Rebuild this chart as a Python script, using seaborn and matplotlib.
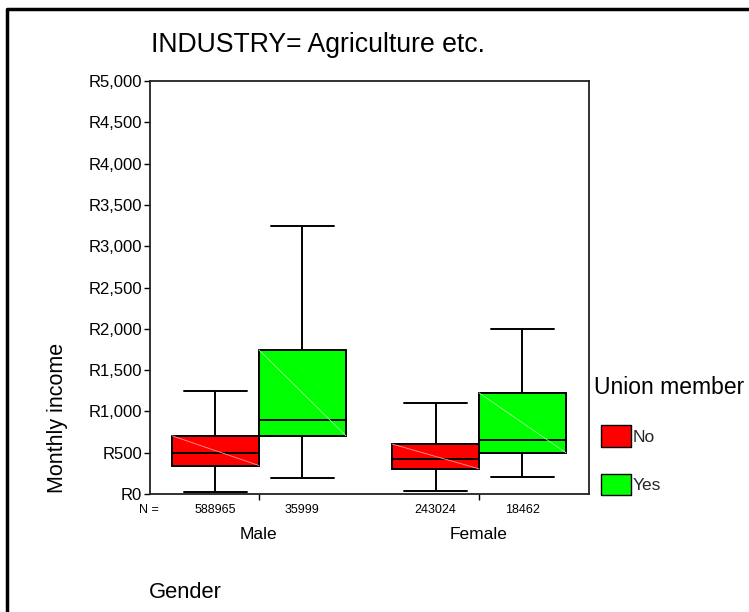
import numpy as np
import pandas as pd
import matplotlib
matplotlib.use("Agg")
import matplotlib.pyplot as plt
from matplotlib.lines import Line2D
from matplotlib.patches import Patch
from matplotlib.ticker import FuncFormatter
import seaborn as sns

# Five-number summaries of monthly income (min, Q1, median, Q3, max)
genders = ["Male", "Female"]
union_levels = ["No", "Yes"]
male_no = [20, 345, 500, 705, 1250]
male_yes = [190, 705, 900, 1745, 3250]
female_no = [40, 305, 420, 605, 1100]
female_yes = [205, 500, 650, 1225, 2000]
counts = [588965, 35999, 243024, 18462]
y_ticks = list(range(0, 5001, 500))

rows = []
for g, u, vals in [("Male", "No", male_no), ("Male", "Yes", male_yes),
                   ("Female", "No", female_no), ("Female", "Yes", female_yes)]:
    for v in vals:
        rows.append({"Gender": g, "Union member": u, "income": v})
df = pd.DataFrame(rows)

sns.set_theme(style="white")
plt.rcParams["font.family"] = ["Liberation Sans", "DejaVu Sans"]

W, H = 749, 612
fig = plt.figure(figsize=(W / 100, H / 100), dpi=100)
fig.patch.set_facecolor("white")

def fx(px):
    return px / W

def fy(py):
    return 1 - py / H

ax = fig.add_axes([fx(150), fy(494), fx(589) - fx(150), fy(81) - fy(494)])

palette = {"No": "#ff0000", "Yes": "#00ff00"}
box_width = 0.79
# five values per group with whiskers at min/max reproduce the summary exactly
sns.boxplot(data=df, x="Gender", y="income", hue="Union member",
            order=genders, hue_order=union_levels, palette=palette,
            whis=(0, 100), width=box_width, gap=0, dodge=True,
            saturation=1, showfliers=False, linecolor="black",
            linewidth=1.4, capwidths=0.286, legend=False, ax=ax)

# faint diagonal stroke across each box face
shade = {"#ff0000": "#ff9a9a", "#00ff00": "#9dff9d"}
for p in list(ax.patches):
    ext = p.get_path().get_extents()
    fc = matplotlib.colors.to_hex(p.get_facecolor())
    ax.plot([ext.x0, ext.x1], [ext.y1, ext.y0], color=shade.get(fc, "white"),
            lw=0.6, zorder=p.get_zorder() + 0.1)

ax.set_ylim(0, 5000)
ax.set_xlim(-0.495, 1.5)
ax.set_yticks(y_ticks)
ax.yaxis.set_major_formatter(FuncFormatter(lambda v, _: f"R{int(v):,}"))
ax.set_xlabel("")
ax.set_ylabel("")
ax.set_xticks(range(len(genders)))
ax.set_xticklabels(genders)
for s in ax.spines.values():
    s.set_visible(True)
    s.set_color("#222222")
    s.set_linewidth(1.3)
ax.tick_params(axis="y", which="major", direction="out", length=4.5,
               width=1.0, color="black", labelsize=12, pad=1, left=True)
ax.tick_params(axis="x", which="major", direction="out", length=4,
               width=1.0, color="black", labelsize=12.5, pad=20, bottom=True)
for t in ax.get_yticklabels() + ax.get_xticklabels():
    t.set_color("black")

# case counts beneath each box
trans = matplotlib.transforms.blended_transform_factory(ax.transData, fig.transFigure)
i = 0
for gi, g in enumerate(genders):
    for ui, u in enumerate(union_levels):
        xpos = gi + (ui - 0.5) * box_width / 2
        ax.text(xpos, fy(510), str(counts[i]), transform=trans,
                ha="center", va="center", fontsize=9, color="black")
        i += 1
fig.text(fx(149), fy(510), "N =", ha="center", va="center", fontsize=9, color="black")

fig.text(fx(151), fy(45), "INDUSTRY= Agriculture etc.", ha="left", va="center",
         fontsize=19.2, color="black")
fig.text(fx(57), fy(418), "Monthly income", rotation=90, ha="center",
         va="center", fontsize=15.5, color="black")
fig.text(fx(149), fy(592), "Gender", ha="left", va="center",
         fontsize=15.8, color="black")

# legend: title set as its own text, swatches a little indented below it
fig.text(fx(594), fy(387), "Union member", ha="left", va="center",
         fontsize=16.5, color="black")
handles = [Patch(facecolor=palette[u], edgecolor="black", linewidth=1.0)
           for u in union_levels]
leg = fig.legend(handles, union_levels, loc="upper left",
                 bbox_to_anchor=(fx(601), fy(425)), frameon=False,
                 fontsize=12.5, handlelength=1.7,
                 handleheight=1.55, handletextpad=0.1, labelspacing=1.55,
                 borderpad=0, borderaxespad=0)

# page frame along the left and top edges
fig.add_artist(Line2D([fx(7), fx(7), 1.0], [0.0, fy(9), fy(9)],
                      transform=fig.transFigure, color="black", lw=2.5))

fig.savefig("out.png", dpi=100, facecolor="white")
